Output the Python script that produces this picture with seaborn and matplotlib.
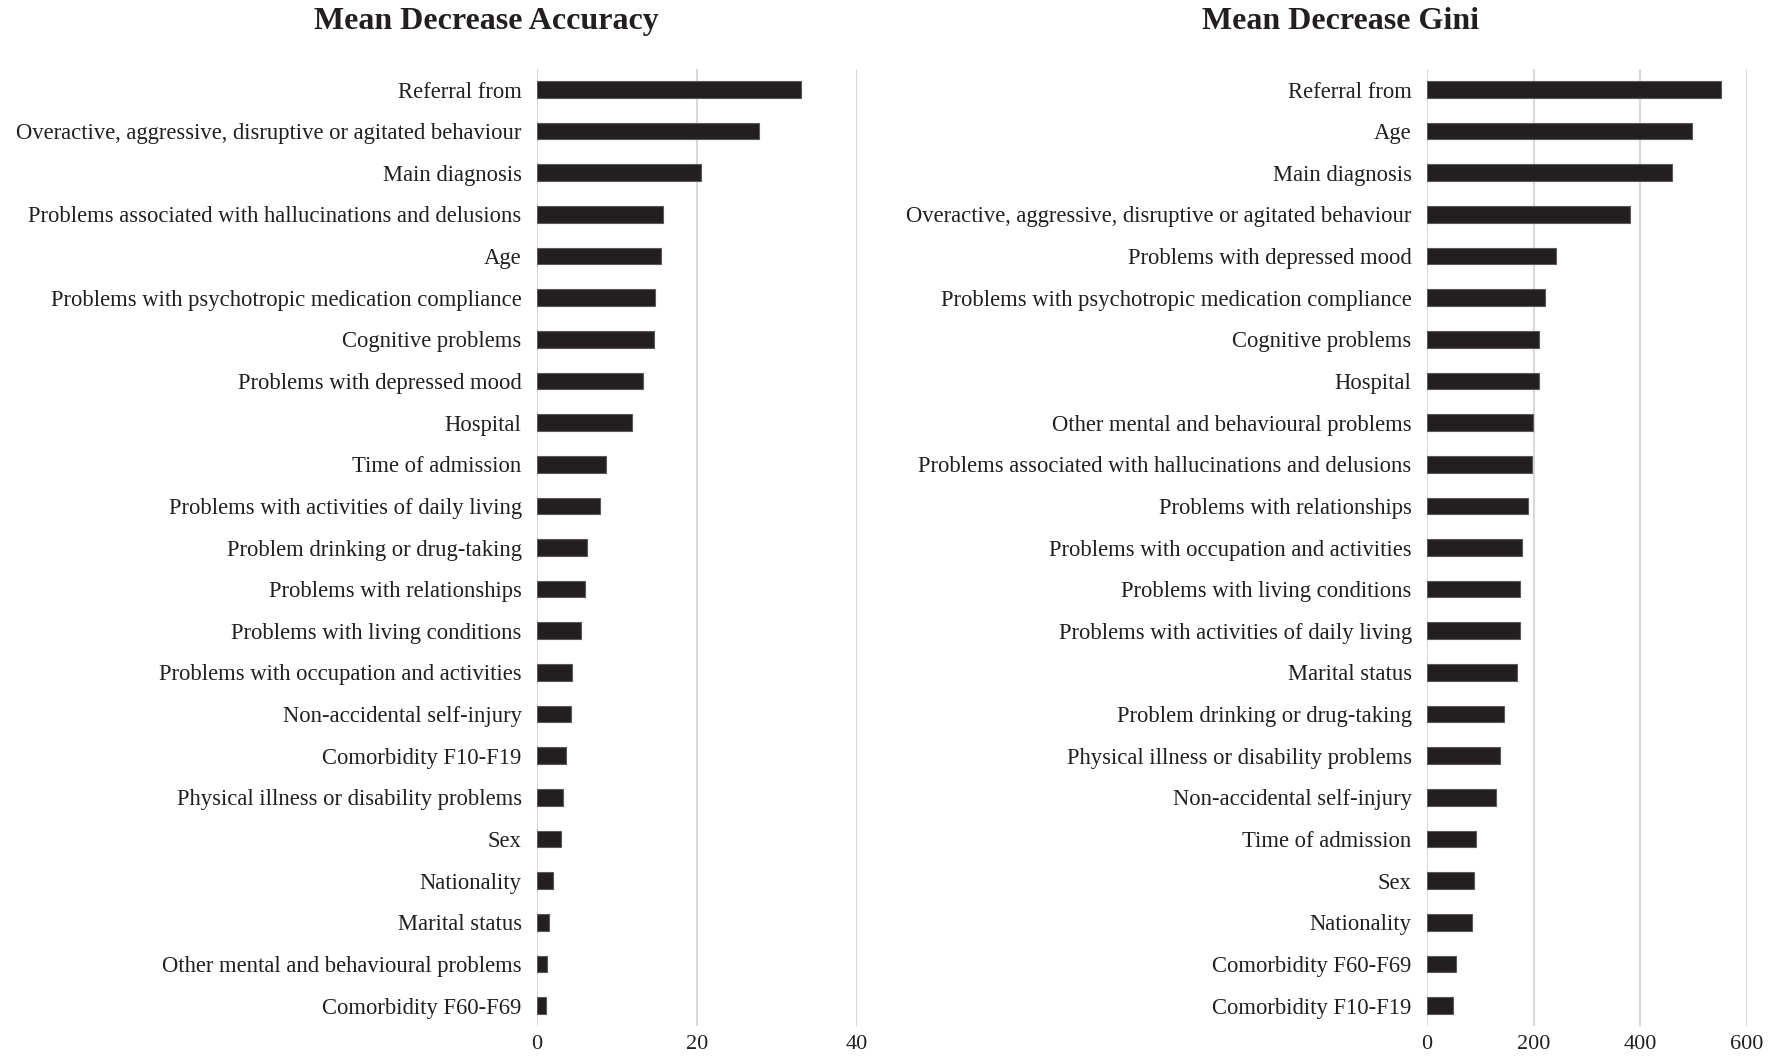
import seaborn as sns
import matplotlib.pyplot as plt
import pandas as pd

# Mean Decrease Accuracy
acc_labels = ["Referral from",
              "Overactive, aggressive, disruptive or agitated behaviour",
              "Main diagnosis",
              "Problems associated with hallucinations and delusions",
              "Age",
              "Problems with psychotropic medication compliance",
              "Cognitive problems",
              "Problems with depressed mood",
              "Hospital",
              "Time of admission",
              "Problems with activities of daily living",
              "Problem drinking or drug-taking",
              "Problems with relationships",
              "Problems with living conditions",
              "Problems with occupation and activities",
              "Non-accidental self-injury",
              "Comorbidity F10-F19",
              "Physical illness or disability problems",
              "Sex",
              "Nationality",
              "Marital status",
              "Other mental and behavioural problems",
              "Comorbidity F60-F69"]
acc_values = [33.0, 27.8, 20.5, 15.7, 15.5, 14.75, 14.6, 13.3, 11.9, 8.6, 7.9,
              6.2, 6.0, 5.5, 4.4, 4.2, 3.6, 3.2, 3.0, 2.0, 1.5, 1.3, 1.15]

# Mean Decrease Gini
gini_labels = ["Referral from",
               "Age",
               "Main diagnosis",
               "Overactive, aggressive, disruptive or agitated behaviour",
               "Problems with depressed mood",
               "Problems with psychotropic medication compliance",
               "Cognitive problems",
               "Hospital",
               "Other mental and behavioural problems",
               "Problems associated with hallucinations and delusions",
               "Problems with relationships",
               "Problems with occupation and activities",
               "Problems with living conditions",
               "Problems with activities of daily living",
               "Marital status",
               "Problem drinking or drug-taking",
               "Physical illness or disability problems",
               "Non-accidental self-injury",
               "Time of admission",
               "Sex",
               "Nationality",
               "Comorbidity F60-F69",
               "Comorbidity F10-F19"]
gini_values = [552, 496, 459, 381, 242, 221, 210, 210, 199, 197, 189, 178, 174,
               174, 169, 144, 137, 129, 92, 88, 84, 54, 49]

sns.set_style("white")
plt.rcParams['font.family'] = ['Liberation Serif', 'DejaVu Serif']

bar_color = "#231f20"
grid_color = "#d9d9d9"

fig = plt.figure(figsize=(17.82, 10.57), dpi=100)
ax1 = fig.add_axes([0.3013, 0.029, 0.1796, 0.906])
ax2 = fig.add_axes([0.8008, 0.029, 0.1796, 0.906])

dfAcc = pd.DataFrame({"var": acc_labels, "val": acc_values})
dfGini = pd.DataFrame({"var": gini_labels, "val": gini_values})

for ax, df, lim, ticks in [(ax1, dfAcc, 40, [0, 20, 40]),
                           (ax2, dfGini, 600, [0, 200, 400, 600])]:
    sns.barplot(data=df, x="val", y="var", orient="h", color=bar_color,
                width=0.4, edgecolor="#5a5a5a", linewidth=0.8, saturation=1,
                ax=ax, zorder=3)
    ax.set_xlim(0, lim)
    ax.set_xticks(ticks)
    ax.set_xlabel("")
    ax.set_ylabel("")
    ax.grid(axis="x", color=grid_color, linewidth=1.5, zorder=0)
    ax.set_axisbelow(True)
    sns.despine(ax=ax, left=True, bottom=True)
    ax.tick_params(axis="y", labelsize=16.3, length=0, pad=11, colors="#231f20")
    ax.tick_params(axis="x", labelsize=16, length=0, pad=6, colors="#231f20")

fig.text(0.273, 0.980, "Mean Decrease Accuracy", ha="center", va="center",
         fontsize=23, fontweight="bold", color="#231f20")
fig.text(0.752, 0.980, "Mean Decrease Gini", ha="center", va="center",
         fontsize=23, fontweight="bold", color="#231f20")

plt.savefig("out.png", dpi=100)
